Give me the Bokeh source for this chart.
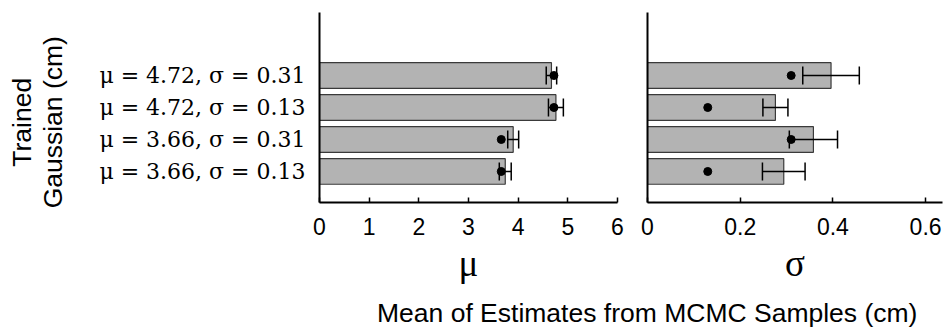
from bokeh.plotting import figure
from bokeh.models import FixedTicker, Div, Range1d, ColumnDataSource
from bokeh.layouts import row, column
from bokeh.embed import file_html
from bokeh.resources import INLINE

# ---- data (bottom to top) ----
conditions = ["μ = 3.66, σ = 0.13", "μ = 3.66, σ = 0.31",
              "μ = 4.72, σ = 0.13", "μ = 4.72, σ = 0.31"]
true_mu = [3.66, 3.66, 4.72, 4.72]
true_sigma = [0.13, 0.31, 0.13, 0.31]
est_mu = [3.74, 3.90, 4.76, 4.67]
err_mu = [0.12, 0.11, 0.15, 0.105]
est_sigma = [0.294, 0.358, 0.276, 0.396]
err_sigma = [0.046, 0.052, 0.027, 0.061]
mu_ticks = [0, 1, 2, 3, 4, 5, 6]
sigma_ticks = [0, 0.2, 0.4, 0.6]
sigma_tick_labels = ["0", "0.2", "0.4", "0.6"]

idx = list(range(len(conditions)))
CAP = 0.28

def make_source(est, err, true):
    return ColumnDataSource(dict(
        y=idx, est=est, true=true,
        lo=[e - d for e, d in zip(est, err)],
        hi=[e + d for e, d in zip(est, err)],
        y0=[i - CAP for i in idx], y1=[i + CAP for i in idx],
    ))

def panel(p, src, xlabel):
    p.hbar(y="y", left=0, right="est", height=0.8, source=src,
           fill_color="#b3b3b3", line_color="#3a3a3a", line_width=1.2)
    p.segment(x0="lo", y0="y", x1="hi", y1="y", source=src, line_color="black", line_width=1.5)
    p.segment(x0="lo", y0="y0", x1="lo", y1="y1", source=src, line_color="black", line_width=1.5)
    p.segment(x0="hi", y0="y0", x1="hi", y1="y1", source=src, line_color="black", line_width=1.5)
    p.scatter(x="true", y="y", source=src, size=8, color="black")
    p.xgrid.visible = False
    p.ygrid.visible = False
    p.outline_line_color = None
    p.xaxis.axis_line_width = 2
    p.yaxis.axis_line_width = 2
    p.xaxis.major_tick_in = 5
    p.xaxis.major_tick_out = 0
    p.xaxis.major_tick_line_width = 1.5
    p.xaxis.minor_tick_line_color = None
    p.yaxis.minor_tick_line_color = None
    p.yaxis.major_tick_in = 0
    p.yaxis.major_tick_out = 0
    p.xaxis.major_label_text_font = "Liberation Sans"
    p.xaxis.major_label_text_font_size = "23px"
    p.xaxis.major_label_text_color = "black"
    p.xaxis.major_label_standoff = 15
    p.xaxis.axis_label = xlabel
    p.xaxis.axis_label_text_font = "Liberation Serif"
    p.xaxis.axis_label_text_font_size = "37px"
    p.xaxis.axis_label_text_font_style = "normal"
    p.xaxis.axis_label_text_color = "black"
    p.xaxis.axis_label_standoff = 5

H = 294
YR = (-0.97, 4.97)
NB = "\u00a0" * 4

p1 = figure(width=627, height=H, x_range=Range1d(0, 6), y_range=Range1d(*YR),
            output_backend="svg", toolbar_location=None,
            min_border_left=319, min_border_right=10, min_border_top=12, min_border_bottom=92)
panel(p1, make_source(est_mu, err_mu, true_mu), "μ")
p1.xaxis.ticker = FixedTicker(ticks=mu_ticks)
p1.yaxis.ticker = FixedTicker(ticks=idx)
p1.yaxis.major_label_overrides = {i: c for i, c in zip(idx, conditions)}
p1.yaxis.major_label_text_font = "DejaVu Serif"
p1.yaxis.major_label_text_font_size = "22px"
p1.yaxis.major_label_text_color = "black"
p1.yaxis.major_label_standoff = 14
p1.yaxis.axis_label = "Trained" + NB + "\nGaussian (cm)" + NB
p1.yaxis.axis_label_text_font = "Liberation Sans"
p1.yaxis.axis_label_text_font_size = "26.5px"
p1.yaxis.axis_label_text_line_height = 1.06
p1.yaxis.axis_label_text_font_style = "normal"
p1.yaxis.axis_label_text_color = "black"
p1.yaxis.axis_label_standoff = 28

p2 = figure(width=319, height=H, x_range=Range1d(0, 0.6365), y_range=Range1d(*YR),
            output_backend="svg", toolbar_location=None,
            min_border_left=20, min_border_right=4, min_border_top=12, min_border_bottom=92)
panel(p2, make_source(est_sigma, err_sigma, true_sigma), "σ")
p2.xaxis.ticker = FixedTicker(ticks=sigma_ticks)
p2.xaxis.major_label_overrides = {t: l for t, l in zip(sigma_ticks, sigma_tick_labels)}
p2.yaxis.ticker = FixedTicker(ticks=[])
p2.yaxis.major_label_standoff = 0

title = Div(text='<div style="padding-left:372px; padding-top:0px; font-family:\'Liberation Sans\'; '
                 'font-size:26.5px; line-height:28px; color:black; white-space:nowrap;">'
                 'Mean of Estimates from MCMC Samples (cm)</div>',
            width=946, height=32)

layout = column(row(p1, p2), title)
open("out.html", "w").write(file_html(layout, INLINE))
